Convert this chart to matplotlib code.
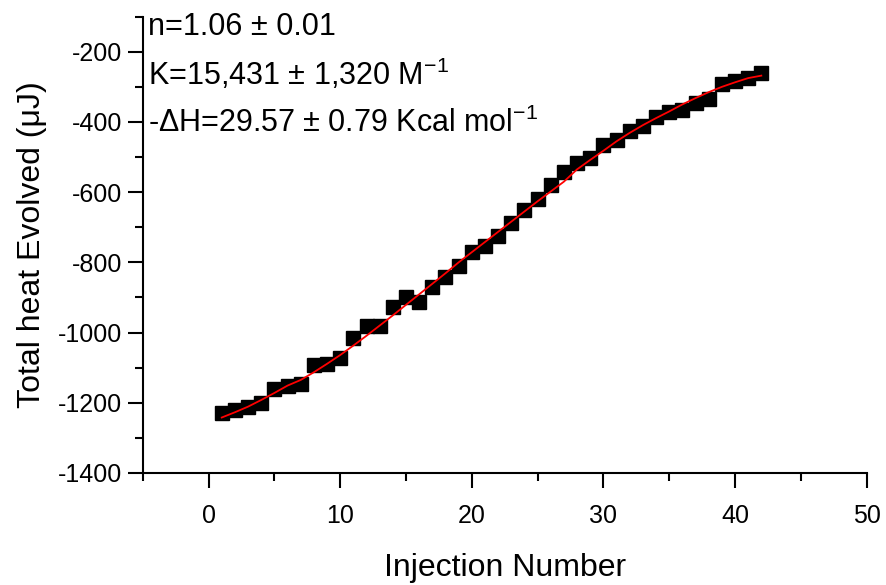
import matplotlib
matplotlib.use("Agg")
import matplotlib.pyplot as plt
from matplotlib.ticker import MultipleLocator

plt.rcParams['font.family'] = ['Liberation Sans', 'DejaVu Sans']
plt.rcParams['mathtext.fontset'] = 'custom'
plt.rcParams['mathtext.rm'] = 'Liberation Sans'
plt.rcParams['mathtext.it'] = 'Liberation Sans'
plt.rcParams['axes.unicode_minus'] = False

# Injection data
injection = list(range(1, 43))
total_heat = [-1228, -1220, -1212, -1202, -1160, -1152, -1146, -1092, -1089, -1072,
              -1015, -981, -981, -927, -898, -913, -870, -841, -810, -770,
              -753, -724, -687, -650, -619, -580, -542, -516, -502, -465,
              -451, -427, -411, -387, -371, -365, -345, -334, -293, -283,
              -274, -260]

# fitted curve (red), read at each injection
fit_heat = [-1242, -1227, -1211, -1192, -1172, -1151, -1135, -1113, -1089, -1064,
            -1037, -1009, -980, -951, -921, -891, -861, -831, -800, -771,
            -742, -713, -684, -655, -626, -598, -570, -535, -508, -482,
            -455, -431, -409, -389, -370, -350, -332, -315, -300, -287,
            -275, -268]

fit_lines = ["n=1.06 \u00b1 0.01",
             "K=15,431 \u00b1 1,320 M$^{-1}$",
             "-\u0394H=29.57 \u00b1 0.79 Kcal mol$^{-1}$"]

fig = plt.figure(figsize=(8.87, 5.85), dpi=100)
ax = fig.add_axes([0.161, 0.1915, 0.816, 0.780])

ax.plot(injection, total_heat, linestyle='none', marker='s', ms=10,
        color='black', mec='black')
ax.plot(injection, fit_heat, color='red', lw=1.3)

ax.set_xlim(-5, 50)
ax.set_ylim(-1400, -100)
ax.xaxis.set_major_locator(MultipleLocator(10))
ax.xaxis.set_minor_locator(MultipleLocator(5))
ax.yaxis.set_major_locator(MultipleLocator(200))
ax.yaxis.set_minor_locator(MultipleLocator(100))

ax.spines['top'].set_visible(False)
ax.spines['right'].set_visible(False)
for s in ['left', 'bottom']:
    ax.spines[s].set_linewidth(1.5)
ax.tick_params(which='major', direction='out', length=11, width=1.5,
               labelsize=18, pad=4)
ax.tick_params(axis='x', which='major', pad=11)
ax.tick_params(which='minor', direction='out', length=6, width=1.5)

ax.set_xlabel("Injection Number", fontsize=23, labelpad=18)
ax.set_ylabel("Total heat Evolved (\u03bcJ)", fontsize=23, labelpad=8)

for txt, yy in zip(fit_lines, [0.9605, 0.851, 0.748]):
    ax.text(0.007, yy, txt, transform=ax.transAxes, fontsize=22,
            va='baseline', ha='left')

fig.savefig("out.png", dpi=100)
